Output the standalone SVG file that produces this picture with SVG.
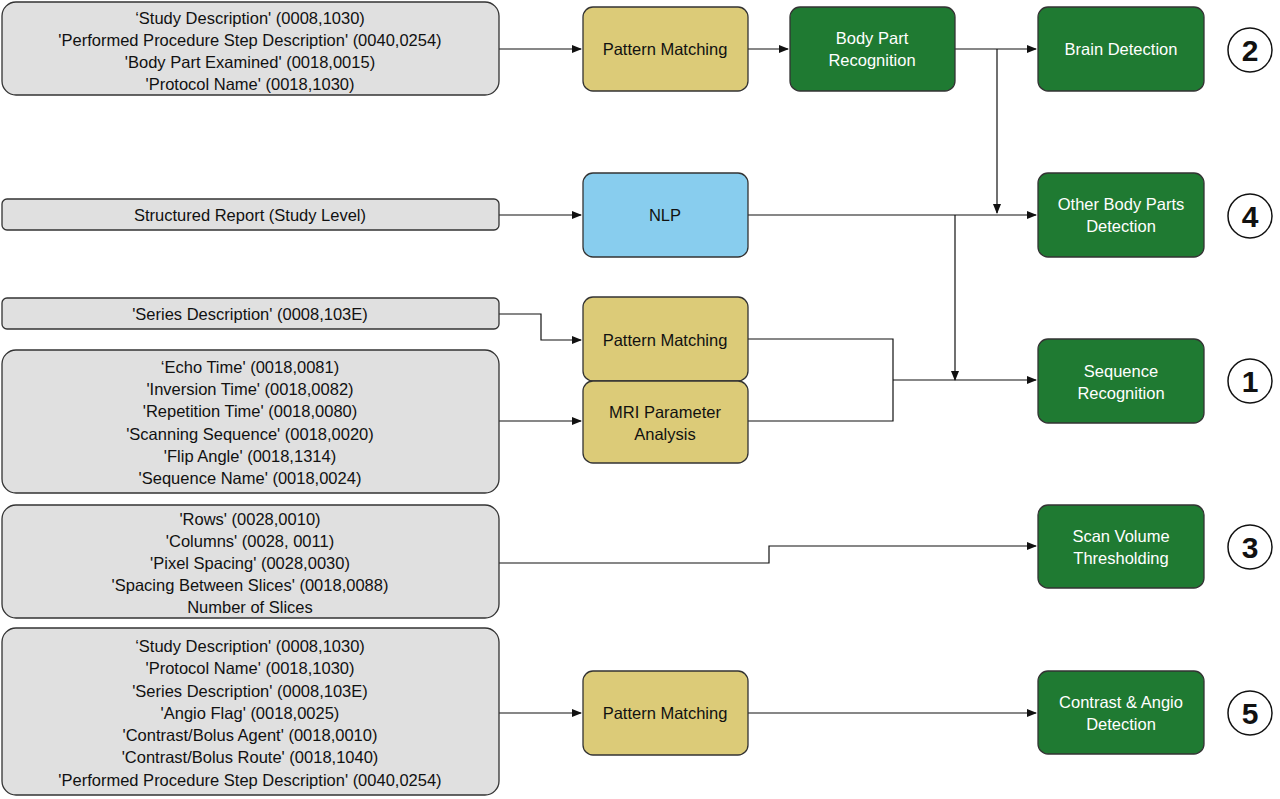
<svg xmlns="http://www.w3.org/2000/svg" width="1280" height="799" viewBox="0 0 1280 799">
<defs>
<style>
.in{fill:#e0e0e0;stroke:#333;stroke-width:1.3}
.y{fill:#dccb78;stroke:#333;stroke-width:1.3}
.b{fill:#88cdee;stroke:#333;stroke-width:1.3}
.g{fill:#1f7a32;stroke:#333;stroke-width:1.3}
.c{fill:#fff;stroke:#111;stroke-width:1.5}
text{font-family:"Liberation Sans",Arial,sans-serif;font-size:16.5px;text-anchor:middle;fill:#111}
.w{fill:#fff}
.n{font-size:30px;font-weight:bold}
.e{fill:none;stroke:#111;stroke-width:1.2}
</style>
<marker id="a" markerWidth="10" markerHeight="8" refX="9" refY="4" orient="auto" markerUnits="userSpaceOnUse"><path d="M0,0L10,4L0,8z" fill="#111"/></marker>
</defs>
<g id="connectors">
<path class="e" d="M499,49H581" marker-end="url(#a)"/>
<path class="e" d="M748,49H788" marker-end="url(#a)"/>
<path class="e" d="M955,49H1036" marker-end="url(#a)"/>
<path class="e" d="M997,49V213" marker-end="url(#a)"/>
<path class="e" d="M499,215H581" marker-end="url(#a)"/>
<path class="e" d="M748,215H1036" marker-end="url(#a)"/>
<path class="e" d="M955,215V380" marker-end="url(#a)"/>
<path class="e" d="M499,314H541V340H581" marker-end="url(#a)"/>
<path class="e" d="M499,421H581" marker-end="url(#a)"/>
<path class="e" d="M748,339H893V421H748"/>
<path class="e" d="M893,380H1036" marker-end="url(#a)"/>
<path class="e" d="M499,563H769V546H1036" marker-end="url(#a)"/>
<path class="e" d="M499,713H581" marker-end="url(#a)"/>
<path class="e" d="M748,713H1036" marker-end="url(#a)"/>
</g>
<g id="in1"><rect class="in" x="2" y="2" width="497" height="93" rx="14"/>
<text x="250" y="24">‘Study Description' (0008,1030)</text><text x="250" y="46">'Performed Procedure Step Description' (0040,0254)</text><text x="250" y="68">'Body Part Examined' (0018,0015)</text><text x="250" y="90">'Protocol Name' (0018,1030)</text></g>
<g id="pm1"><rect class="y" x="583" y="7" width="165" height="84" rx="10"/><text x="665" y="55">Pattern Matching</text></g>
<g id="bpr"><rect class="g" x="790" y="7" width="165" height="84" rx="10"/><text class="w" x="872" y="44">Body Part</text><text class="w" x="872" y="66">Recognition</text></g>
<g id="brain"><rect class="g" x="1038" y="7" width="166" height="84" rx="10"/><text class="w" x="1121" y="55">Brain Detection</text></g>
<g id="c2"><circle class="c" cx="1250" cy="50" r="22"/><text class="n" x="1250" y="61">2</text></g>
<g id="in2"><rect class="in" x="2" y="199" width="497" height="31" rx="5"/><text x="250" y="221">Structured Report (Study Level)</text></g>
<g id="nlp"><rect class="b" x="583" y="173" width="165" height="84" rx="10"/><text x="665" y="221">NLP</text></g>
<g id="other"><rect class="g" x="1038" y="173" width="166" height="84" rx="10"/><text class="w" x="1121" y="210">Other Body Parts</text><text class="w" x="1121" y="232">Detection</text></g>
<g id="c4"><circle class="c" cx="1250" cy="216" r="22"/><text class="n" x="1250" y="227">4</text></g>
<g id="in3"><rect class="in" x="2" y="298" width="497" height="31" rx="5"/><text x="250" y="320">'Series Description' (0008,103E)</text></g>
<g id="pm2"><rect class="y" x="583" y="297" width="165" height="84" rx="10"/><text x="665" y="346">Pattern Matching</text></g>
<g id="mri"><rect class="y" x="583" y="381" width="165" height="82" rx="10"/><text x="665" y="418">MRI Parameter</text><text x="665" y="440">Analysis</text></g>
<g id="in4"><rect class="in" x="2" y="350" width="497" height="143" rx="14"/>
<text x="250" y="373">‘Echo Time' (0018,0081)</text><text x="250" y="395">'Inversion Time' (0018,0082)</text><text x="250" y="417">'Repetition Time' (0018,0080)</text><text x="250" y="440">'Scanning Sequence' (0018,0020)</text><text x="250" y="462">'Flip Angle' (0018,1314)</text><text x="250" y="484">'Sequence Name' (0018,0024)</text></g>
<g id="seq"><rect class="g" x="1038" y="339" width="166" height="84" rx="10"/><text class="w" x="1121" y="377">Sequence</text><text class="w" x="1121" y="399">Recognition</text></g>
<g id="c1"><circle class="c" cx="1250" cy="381" r="22"/><text class="n" x="1250" y="392">1</text></g>
<g id="in5"><rect class="in" x="2" y="505" width="497" height="113" rx="14"/>
<text x="250" y="525">'Rows' (0028,0010)</text><text x="250" y="547">'Columns' (0028, 0011)</text><text x="250" y="569">'Pixel Spacing' (0028,0030)</text><text x="250" y="591">'Spacing Between Slices' (0018,0088)</text><text x="250" y="613">Number of Slices</text></g>
<g id="scan"><rect class="g" x="1038" y="505" width="166" height="83" rx="10"/><text class="w" x="1121" y="542">Scan Volume</text><text class="w" x="1121" y="564">Thresholding</text></g>
<g id="c3"><circle class="c" cx="1250" cy="547" r="22"/><text class="n" x="1250" y="558">3</text></g>
<g id="in6"><rect class="in" x="2" y="628" width="497" height="167" rx="14"/>
<text x="250" y="652">‘Study Description' (0008,1030)</text><text x="250" y="674">'Protocol Name' (0018,1030)</text><text x="250" y="697">'Series Description' (0008,103E)</text><text x="250" y="719">'Angio Flag' (0018,0025)</text><text x="250" y="741">'Contrast/Bolus Agent' (0018,0010)</text><text x="250" y="763">'Contrast/Bolus Route' (0018,1040)</text><text x="250" y="786">'Performed Procedure Step Description' (0040,0254)</text></g>
<g id="pm3"><rect class="y" x="583" y="671" width="165" height="84" rx="10"/><text x="665" y="719">Pattern Matching</text></g>
<g id="contrast"><rect class="g" x="1038" y="671" width="166" height="83" rx="10"/><text class="w" x="1121" y="708">Contrast &amp; Angio</text><text class="w" x="1121" y="730">Detection</text></g>
<g id="c5"><circle class="c" cx="1250" cy="713" r="22"/><text class="n" x="1250" y="724">5</text></g>
</svg>
